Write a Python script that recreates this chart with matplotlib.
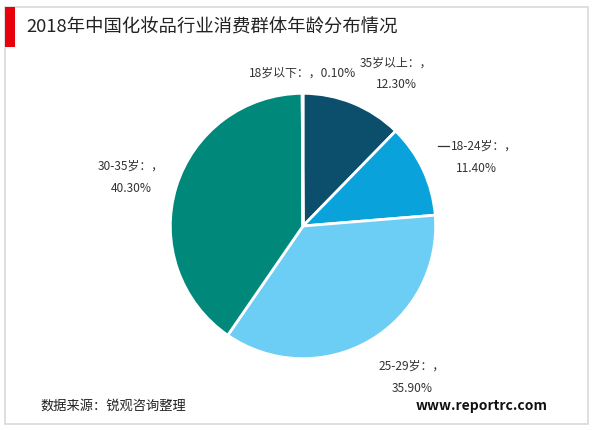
import matplotlib
matplotlib.use('Agg')
import matplotlib.pyplot as plt
from matplotlib.patches import Rectangle
from matplotlib.lines import Line2D

plt.rcParams['font.family'] = ['Noto Sans CJK SC', 'DejaVu Sans']

title = '2018年中国化妆品行业消费群体年龄分布情况'
groups = ['35岁以上', '18-24岁', '25-29岁', '30-35岁', '18岁以下']
shares = [12.30, 11.40, 35.90, 40.30, 0.10]
colors = ['#0b4f6c', '#0aa2da', '#6ccef5', '#00887b', '#3a6fb0']
source = '数据来源：锐观咨询整理'
site = 'www.reportrc.com'

W, H = 600, 430
fig = plt.figure(figsize=(W / 100, H / 100), dpi=100)


def px(x, y):
    # pixel coords (top-left origin) -> figure fraction
    return x / W, 1 - y / H


# outer frame and red marker
fig.patches.append(Rectangle(px(5, 424), 583 / W, 417 / H, transform=fig.transFigure,
                             facecolor='white', edgecolor='#d9d9d9', lw=1.2, zorder=-5))
fig.patches.append(Rectangle(px(5, 47), 10 / W, 40 / H, transform=fig.transFigure,
                             facecolor='#e8000b', edgecolor='none', zorder=1))
fig.text(*px(26, 28), title, fontsize=13.2, color='#222222', va='center', ha='left')

# pie
cx, cy, r = 303, 226, 134
ax = fig.add_axes([(cx - r) / W, (H - cy - r) / H, 2 * r / W, 2 * r / H], zorder=2)
ax.pie(shares, colors=colors, startangle=90, counterclock=False, radius=1,
       wedgeprops=dict(edgecolor='white', linewidth=2))
ax.set_xlim(-1.01, 1.01)
ax.set_ylim(-1.01, 1.01)
ax.set_aspect('equal')
ax.axis('off')

lab_kw = dict(fontsize=8.6, color='#333333', ha='center', va='center', zorder=3)
pct = ['{:.2f}%'.format(v) for v in shares]

# 35岁以上
fig.text(*px(396, 63), groups[0] + '：，', **lab_kw)
fig.text(*px(396, 85), pct[0], **lab_kw)
# 18-24岁
fig.text(*px(484, 146), groups[1] + '：，', **lab_kw)
fig.text(*px(476, 168), pct[1], **lab_kw)
fig.lines.append(Line2D([438 / W, 449 / W], [1 - 146 / H] * 2, transform=fig.transFigure,
                        color='#333333', lw=0.9))
# 25-29岁
fig.text(*px(412, 366), groups[2] + '：，', **lab_kw)
fig.text(*px(412, 389), pct[2], **lab_kw)
# 30-35岁
fig.text(*px(131, 166), groups[3] + '：，', **lab_kw)
fig.text(*px(131, 188), pct[3], **lab_kw)
# 18岁以下
fig.text(*px(303, 73), groups[4] + '：，' + pct[4], **lab_kw)

fig.text(*px(40, 406), source, fontsize=9.5, color='#222222', ha='left', va='center')
fig.text(*px(548, 406), site, fontsize=10, fontweight='bold', color='#111111',
         ha='right', va='center')

fig.savefig('out.png', dpi=100)
